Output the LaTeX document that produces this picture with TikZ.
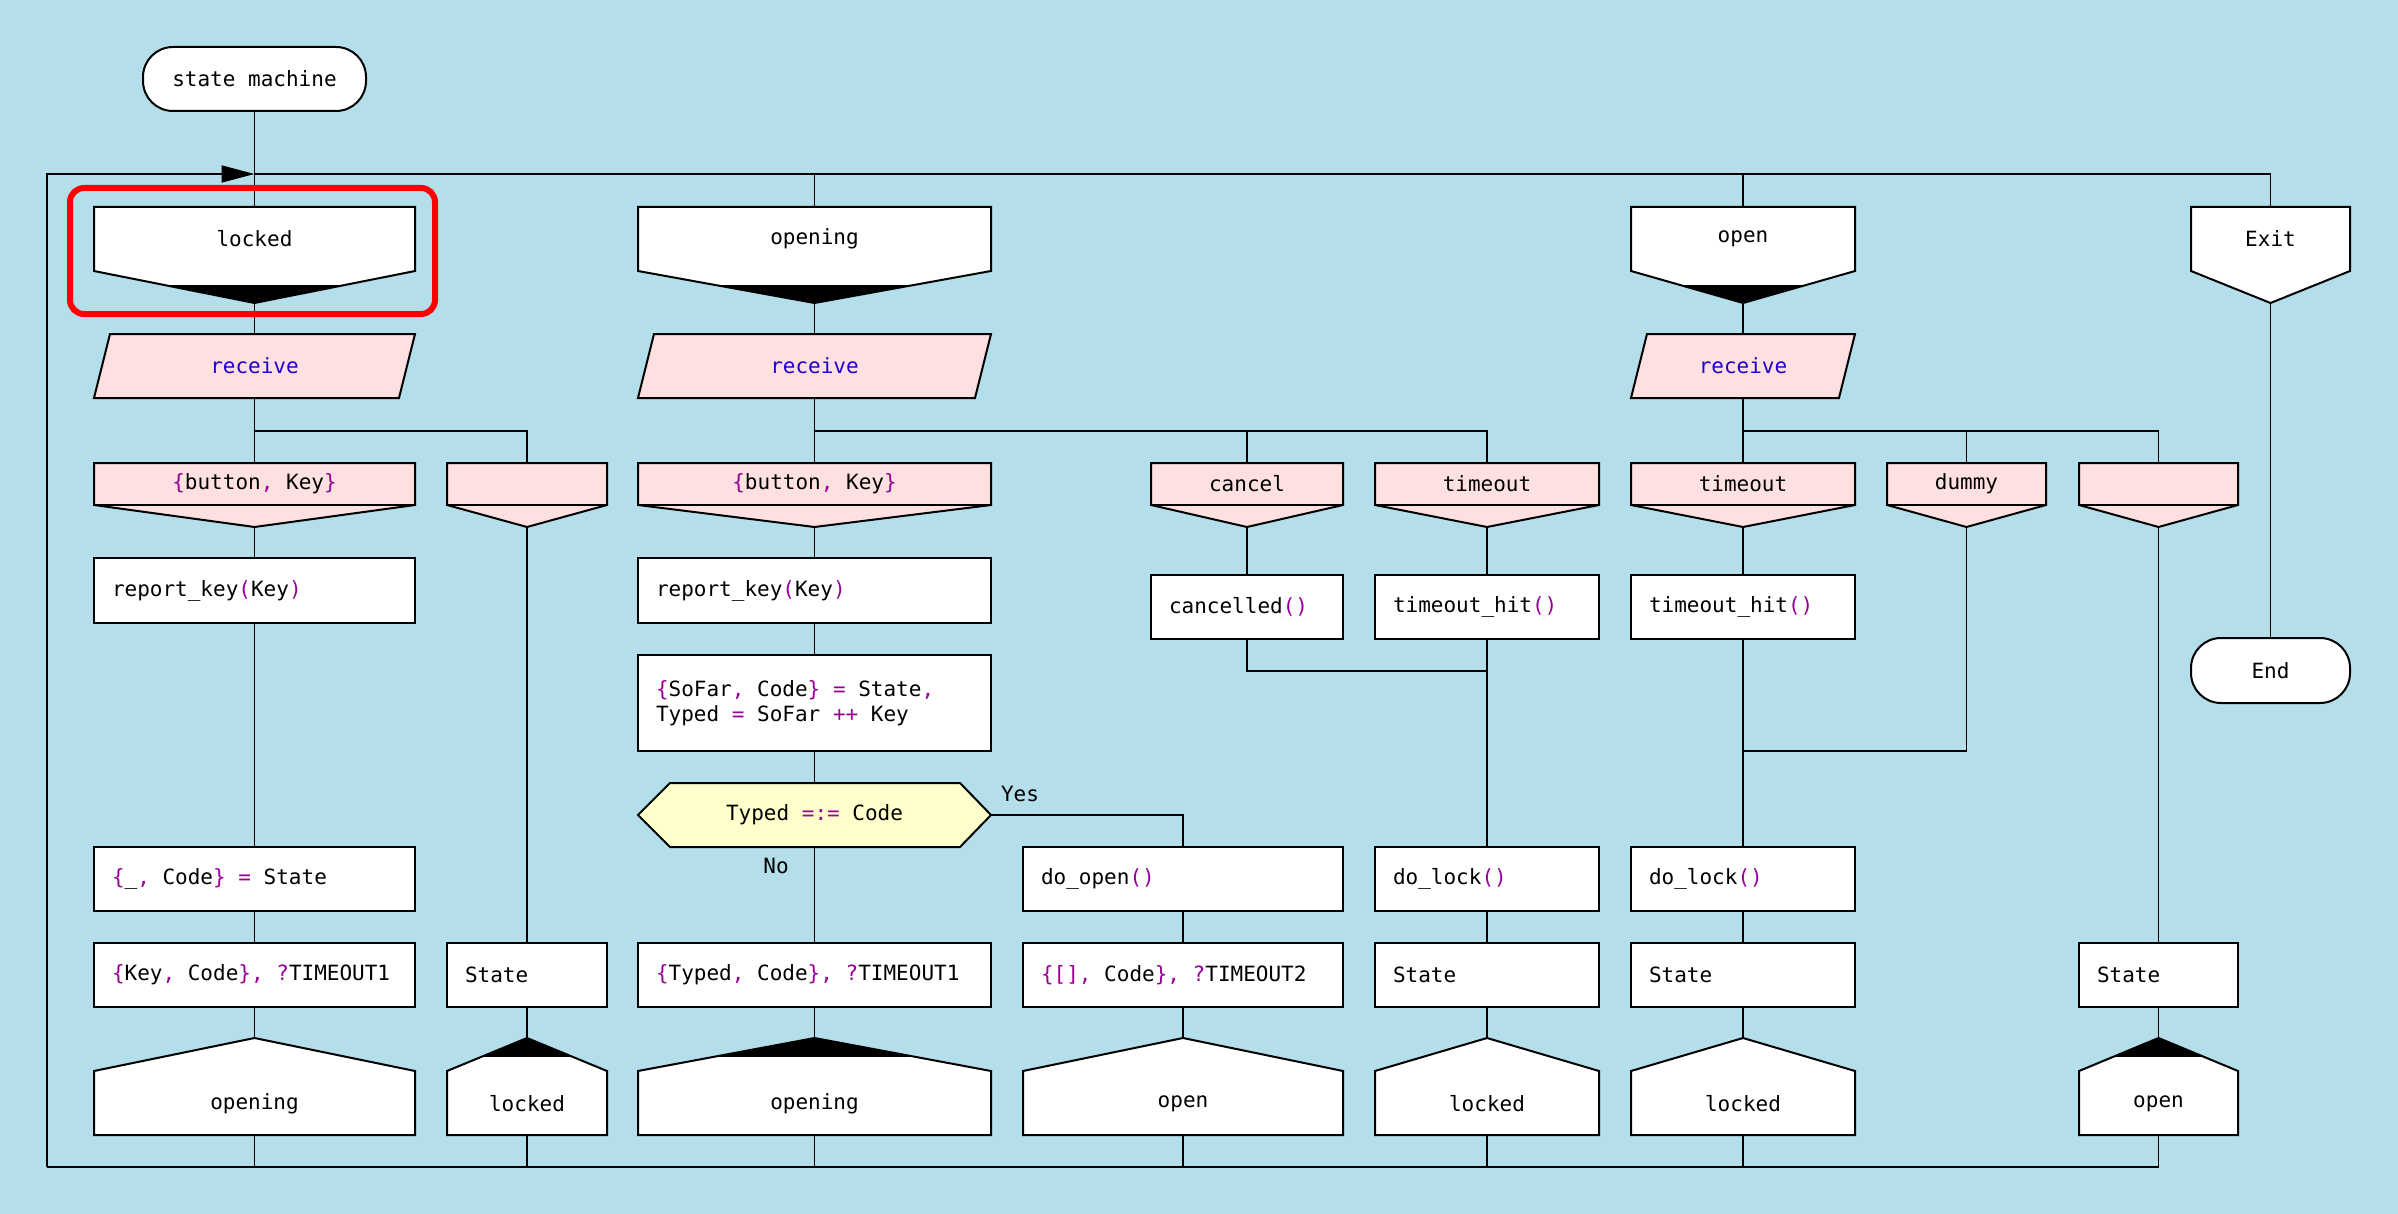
\documentclass[tikz,border=0pt]{standalone}
\usepackage{fontspec}
\setmainfont{DejaVu Sans Mono}
\usetikzlibrary{arrows.meta}
\definecolor{bg}{RGB}{180,222,234}
\definecolor{epink}{RGB}{255,224,224}
\definecolor{dyellow}{RGB}{255,255,204}
\definecolor{epurple}{RGB}{153,0,153}
\definecolor{eblue}{RGB}{34,0,204}
\newcommand\fs{\fontsize{10.5}{12.5}\selectfont}
\newcommand\purp[1]{\textcolor{epurple}{#1}}
\newcommand\ws{\hspace{0.602em}}
\tikzset{
  shp/.style={draw=black, line width=1pt, line join=miter},
  conn/.style={draw=black, line width=0.9pt},
  lbl/.style={font=\fs, inner sep=0pt, text=black},
  act/.style={draw=black, line width=1pt, fill=white, font=\fs, inner ysep=0pt, inner xsep=9pt, align=left, minimum height=32pt},
  term/.style={draw=black, line width=1pt, fill=white, rounded corners=15pt, font=\fs, inner sep=0pt},
  hl/.style={draw=red, line width=3pt, rounded corners=7pt}
}
% state entry (pentagon pointing down)
\newcommand\StIn[5]{%
  \pgfmathsetmacro\cx{(#2+#3)/2}%
  \fill[white] (#2,207) -- (#3,207) -- (#3,271) -- (\cx,303) -- (#2,271) -- cycle;
  \ifnum#5=1
  \begin{scope}
    \clip (#2-5,286) rectangle (#3+5,310);
    \fill[black] (#2,207) -- (#3,207) -- (#3,271) -- (\cx,303) -- (#2,271) -- cycle;
  \end{scope}
  \fi
  \draw[shp] (#2,207) -- (#3,207) -- (#3,271) -- (\cx,303) -- (#2,271) -- cycle;
  \node[lbl] (#1) at (\cx,239) {#4};
  \coordinate (#1-in) at (\cx,207);
  \coordinate (#1-out) at (\cx,303);
}
% receive parallelogram
\newcommand\Rcv[3]{%
  \pgfmathsetmacro\cx{(#2+#3)/2}%
  \draw[shp, fill=epink] (#2+16,334) -- (#3,334) -- (#3-16,398) -- (#2,398) -- cycle;
  \node[lbl, text=eblue] (#1) at (\cx,366) {receive};
  \coordinate (#1-in) at (\cx,334);
  \coordinate (#1-out) at (\cx,398);
}
% event (message pattern)
\newcommand\Ev[4]{%
  \pgfmathsetmacro\cx{(#2+#3)/2}%
  \draw[shp, fill=epink] (#2,463) -- (#3,463) -- (#3,505) -- (\cx,527) -- (#2,505) -- cycle;
  \draw[shp] (#2,505) -- (#3,505);
  \node[lbl] (#1) at (\cx,484) {#4};
  \coordinate (#1-in) at (\cx,463);
  \coordinate (#1-out) at (\cx,527);
}
% next state (house)
\newcommand\House[5]{%
  \pgfmathsetmacro\cx{(#2+#3)/2}%
  \fill[white] (#2,1071) -- (\cx,1038) -- (#3,1071) -- (#3,1135) -- (#2,1135) -- cycle;
  \ifnum#5=1
  \begin{scope}
    \clip (#2-5,1030) rectangle (#3+5,1056);
    \fill[black] (#2,1071) -- (\cx,1038) -- (#3,1071) -- (#3,1135) -- (#2,1135) -- cycle;
  \end{scope}
  \fi
  \draw[shp] (#2,1071) -- (\cx,1038) -- (#3,1071) -- (#3,1135) -- (#2,1135) -- cycle;
  \node[lbl] (#1) at (\cx,1104) {#4};
  \coordinate (#1-in) at (\cx,1038);
  \coordinate (#1-out) at (\cx,1135);
}
\begin{document}
\begin{tikzpicture}[x=0.5pt,y=-0.5pt]
\useasboundingbox[fill=bg] (0,0) rectangle (2398,1214);
\frenchspacing
% loop coordinates
\coordinate (loopBL) at (47,1167);
\coordinate (loopTL) at (47,174);
\coordinate (loopJ) at (254.5,174);
% terminals
\node[term, minimum width=111.5pt, minimum height=32pt] (sm) at (254.5,79) {state\ws machine};
\node[term, minimum width=79.5pt, minimum height=32.5pt] (endt) at (2270.5,670.5) {End};
% states
\StIn{st1}{94}{415}{locked}{1}
\StIn{st3}{638}{991}{opening}{1}
\StIn{st6}{1631}{1855}{open}{1}
\StIn{st9}{2191}{2350}{Exit}{0}
% receives
\Rcv{rc1}{94}{415}
\Rcv{rc3}{638}{991}
\Rcv{rc6}{1631}{1855}
% events
\Ev{ev1}{94}{415}{\purp{\{}button\purp{,}\ws Key\purp{\}}}
\Ev{ev2}{447}{607}{}
\Ev{ev3}{638}{991}{\purp{\{}button\purp{,}\ws Key\purp{\}}}
\Ev{ev4}{1151}{1343}{cancel}
\Ev{ev5}{1375}{1599}{timeout}
\Ev{ev6}{1631}{1855}{timeout}
\Ev{ev7}{1887}{2046}{dummy}
\Ev{ev8}{2079}{2238}{}
% actions
\node[act, text width=142.5pt, minimum height=32.5pt] (rk1) at (254.5,590.5) {report\_key\purp{(}Key\purp{)}};
\node[act, text width=142.5pt] (cs1) at (254.5,879) {\purp{\{}\_\purp{,}\ws Code\purp{\}}\ws\purp{=}\ws State};
\node[act, text width=142.5pt] (kc1) at (254.5,975) {\purp{\{}Key\purp{,}\ws Code\purp{\},}\ws\purp{?}TIMEOUT1};
\node[act, text width=62pt] (sv2) at (527,975) {State};
\node[act, text width=158.5pt, minimum height=32.5pt] (rk3) at (814.5,590.5) {report\_key\purp{(}Key\purp{)}};
\node[act, text width=158.5pt, minimum height=48pt] (sf3) at (814.5,703) {\purp{\{}SoFar\purp{,}\ws Code\purp{\}}\ws\purp{=}\ws State\purp{,}\\Typed\ws\purp{=}\ws SoFar\ws\purp{++}\ws Key};
\node[act, text width=158.5pt] (tc3) at (814.5,975) {\purp{\{}Typed\purp{,}\ws Code\purp{\},}\ws\purp{?}TIMEOUT1};
\node[act, text width=142pt] (dop) at (1183,879) {do\_open\purp{()}};
\node[act, text width=142pt] (ec4) at (1183,975) {\purp{\{[],}\ws Code\purp{\},}\ws\purp{?}TIMEOUT2};
\node[act, text width=78pt] (cc4) at (1247,607) {cancelled\purp{()}};
\node[act, text width=94pt] (th5) at (1487,607) {timeout\_hit\purp{()}};
\node[act, text width=94pt] (dl5) at (1487,879) {do\_lock\purp{()}};
\node[act, text width=94pt] (sv5) at (1487,975) {State};
\node[act, text width=94pt] (th6) at (1743,607) {timeout\_hit\purp{()}};
\node[act, text width=94pt] (dl6) at (1743,879) {do\_lock\purp{()}};
\node[act, text width=94pt] (sv6) at (1743,975) {State};
\node[act, text width=61.5pt] (sv8) at (2158.5,975) {State};
% decision
\draw[shp, fill=dyellow] (638,815) -- (670,783) -- (960,783) -- (991,815) -- (960,847) -- (670,847) -- cycle;
\node[lbl] (dec) at (814.5,815) {Typed\ws\purp{=:=}\ws Code};
\coordinate (dec-in) at (814.5,783);
\coordinate (dec-out) at (814.5,847);
\coordinate (dec-r) at (991,815);
\node[lbl] (yes) at (1020,794) {Yes};
\node[lbl] (no) at (776,866) {No};
% next states
\House{h1}{94}{415}{opening}{0}
\House{h2}{447}{607}{locked}{1}
\House{h3}{638}{991}{opening}{1}
\House{h4}{1023}{1343}{open}{0}
\House{h5}{1375}{1599}{locked}{0}
\House{h6}{1631}{1855}{locked}{0}
\House{h8}{2079}{2238}{open}{1}
% branch points
\coordinate (br1) at (254.5,431);
\coordinate (br3) at (814.5,431);
\coordinate (br6) at (1743,431);
\coordinate (j1) at (1487,671);
\coordinate (j2) at (1743,751);
% connectors: loop
\draw[conn] (sm.south) -- (st1-in);
\draw[conn, -{Triangle[length=16.5pt,width=8.5pt]}] (loopBL) -- (loopTL) -- (loopJ);
\draw[conn] (loopJ) -- (st9-in |- loopJ) -- (st9-in);
\draw[conn] (st3-in |- loopJ) -- (st3-in);
\draw[conn] (st6-in |- loopJ) -- (st6-in);
\draw[conn] (st9-out) -- (endt.north);
% state to receive
\draw[conn] (st1-out) -- (rc1-in);
\draw[conn] (st3-out) -- (rc3-in);
\draw[conn] (st6-out) -- (rc6-in);
% receive to events
\draw[conn] (rc1-out) -- (ev1-in);
\draw[conn] (br1) -| (ev2-in);
\draw[conn] (rc3-out) -- (ev3-in);
\draw[conn] (br3) -| (ev5-in);
\draw[conn] (ev4-in |- br3) -- (ev4-in);
\draw[conn] (rc6-out) -- (ev6-in);
\draw[conn] (br6) -| (ev8-in);
\draw[conn] (ev7-in |- br6) -- (ev7-in);
% column 1
\draw[conn] (ev1-out) -- (rk1.north);
\draw[conn] (rk1.south) -- (cs1.north);
\draw[conn] (cs1.south) -- (kc1.north);
\draw[conn] (kc1.south) -- (h1-in);
% column 2
\draw[conn] (ev2-out) -- (sv2.north);
\draw[conn] (sv2.south) -- (h2-in);
% column 3
\draw[conn] (ev3-out) -- (rk3.north);
\draw[conn] (rk3.south) -- (sf3.north);
\draw[conn] (sf3.south) -- (dec-in);
\draw[conn] (dec-out) -- (tc3.north);
\draw[conn] (tc3.south) -- (h3-in);
\draw[conn] (dec-r) -| (dop.north);
\draw[conn] (dop.south) -- (ec4.north);
\draw[conn] (ec4.south) -- (h4-in);
% cancel / timeout
\draw[conn] (ev4-out) -- (cc4.north);
\draw[conn] (cc4.south) |- (j1);
\draw[conn] (ev5-out) -- (th5.north);
\draw[conn] (th5.south) -- (dl5.north);
\draw[conn] (dl5.south) -- (sv5.north);
\draw[conn] (sv5.south) -- (h5-in);
\draw[conn] (ev6-out) -- (th6.north);
\draw[conn] (th6.south) -- (dl6.north);
\draw[conn] (dl6.south) -- (sv6.north);
\draw[conn] (sv6.south) -- (h6-in);
\draw[conn] (ev7-out) |- (j2);
\draw[conn] (ev8-out) -- (sv8.north);
\draw[conn] (sv8.south) -- (h8-in);
% bottom return line
\draw[conn] (loopBL) -- (h8-out |- loopBL) -- (h8-out);
\draw[conn] (h1-out) -- (h1-out |- loopBL);
\draw[conn] (h2-out) -- (h2-out |- loopBL);
\draw[conn] (h3-out) -- (h3-out |- loopBL);
\draw[conn] (h4-out) -- (h4-out |- loopBL);
\draw[conn] (h5-out) -- (h5-out |- loopBL);
\draw[conn] (h6-out) -- (h6-out |- loopBL);
% highlight
\draw[hl] (70,188) rectangle (435,314);
\end{tikzpicture}
\end{document}
